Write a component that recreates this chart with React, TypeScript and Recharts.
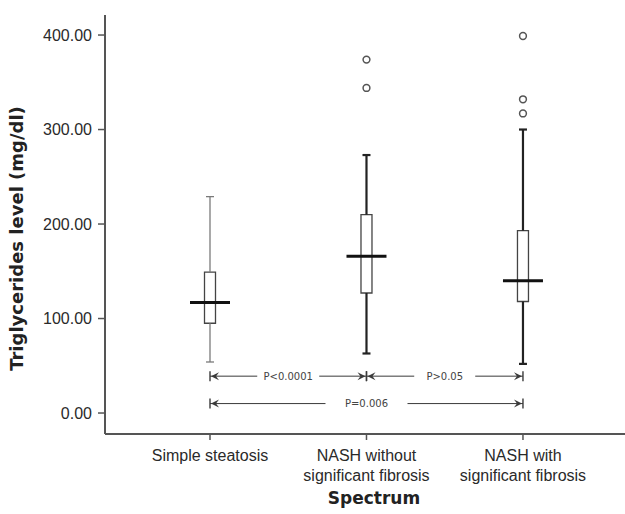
import React from 'react'
import { ComposedChart, XAxis, YAxis, Scatter, ReferenceLine, ReferenceArea, Label } from 'recharts'

// groups along the x axis
const categories = ['Simple steatosis', 'NASH without significant fibrosis', 'NASH with significant fibrosis']
const groupPositions = [1, 2, 3]

// box plot statistics (mg/dl)
const whiskerLow = [54, 63, 52]
const quartile1 = [95, 127, 118]
const medians = [117, 166, 140]
const quartile3 = [149, 210, 193]
const whiskerHigh = [229, 273, 300]

// outliers
const outlierGroups = [2, 2, 3, 3, 3]
const outlierValues = [374, 344, 399, 332, 317]

const yTicks = [0, 100, 200, 300, 400]

// pairwise comparisons
const compareFrom = [1, 2, 1]
const compareTo = [2, 3, 3]
const compareLevel = [39, 39, 10]
const compareLabels = ['P<0.0001', 'P>0.05', 'P=0.006']

// styles / sizes
const X_DOMAIN: [number, number] = [0.329, 3.652]
const Y_DOMAIN: [number, number] = [-22.2, 421.2]
const PX_PER_GROUP = 156.5
const BOX_HALF = 5.5 / PX_PER_GROUP
const MEDIAN_HALF = 20 / PX_PER_GROUP
const CAP_HALF = 4 / PX_PER_GROUP
const GROUP_STROKE = ['#7a7a7a', '#222', '#222']
const GROUP_WIDTH = [1.3, 2.2, 2.2]
const BRACKET_GAPS = [62, 61, 82]
const FRAME = '#555'
const FONT = '"Liberation Sans", Arial, sans-serif'

const outlierData = outlierGroups.map((g, i) => ({ x: g, y: outlierValues[i] }))

function CategoryTick(props: any) {
  const { x, y, payload } = props
  const label = categories[payload.value - 1] || ''
  const lines = label.replace(' significant', '\nsignificant').split('\n')
  return (
    <text x={x} y={y} textAnchor="middle" fontSize={16} fill="#2a2a2a" fontFamily={FONT}>
      {lines.map((ln, i) => (
        <tspan key={i} x={x} dy={i === 0 ? 19 : 20}>{ln}</tspan>
      ))}
    </text>
  )
}

function Bracket(props: any) {
  const { x1, y1, x2, label, gap } = props
  const y = y1
  const mid = (x1 + x2) / 2
  const c = '#3a3a3a'
  return (
    <g>
      <line x1={x1} y1={y} x2={mid - gap / 2} y2={y} stroke={c} strokeWidth={1} />
      <line x1={mid + gap / 2} y1={y} x2={x2} y2={y} stroke={c} strokeWidth={1} />
      <line x1={x1} y1={y - 5} x2={x1} y2={y + 5} stroke={c} strokeWidth={1.4} />
      <line x1={x2} y1={y - 5} x2={x2} y2={y + 5} stroke={c} strokeWidth={1.4} />
      <path d={`M${x1 + 1},${y} L${x1 + 9},${y - 4} L${x1 + 6},${y} L${x1 + 9},${y + 4} Z`} fill={c} />
      <path d={`M${x2 - 1},${y} L${x2 - 9},${y - 4} L${x2 - 6},${y} L${x2 - 9},${y + 4} Z`} fill={c} />
      <text x={mid} y={y} dy={3.6} textAnchor="middle" fontSize={10} fontFamily="DejaVu Sans" fill="#444">
        {label}
      </text>
    </g>
  )
}

export default function App() {
  return (
    <div style={{ position: 'absolute', left: 0, top: 0, width: 625, height: 514, background: '#fff' }}>
      <ComposedChart
        width={625}
        height={514}
        margin={{ top: 15, right: 0, bottom: 0, left: 0 }}
        style={{ fontFamily: FONT }}
      >
        <XAxis
          xAxisId="top"
          orientation="top"
          type="number"
          domain={X_DOMAIN}
          allowDataOverflow
          tick={false}
          tickLine={false}
          height={0}
          axisLine={{ stroke: FRAME, strokeWidth: 2 }}
        />
        <XAxis
          type="number"
          dataKey="x"
          domain={X_DOMAIN}
          allowDataOverflow
          ticks={groupPositions}
          interval={0}
          height={80}
          tickSize={6}
          tick={<CategoryTick />}
          axisLine={{ stroke: FRAME, strokeWidth: 2 }}
          tickLine={{ stroke: FRAME, strokeWidth: 1.5 }}
        >
          <Label
            content={(p: any) => {
              const vb = p.viewBox
              return (
                <text x={vb.x + vb.width / 2 + 9} y={vb.y + 70} textAnchor="middle" fontSize={17}
                  fontWeight="bold" fontFamily="DejaVu Sans" fill="#222">Spectrum</text>
              )
            }}
          />
        </XAxis>
        <YAxis
          type="number"
          dataKey="y"
          domain={Y_DOMAIN}
          allowDataOverflow
          ticks={yTicks}
          width={105}
          tickSize={7}
          tickMargin={6}
          tickFormatter={(v: number) => v.toFixed(2)}
          tick={{ fontSize: 16, fill: '#2a2a2a', fontFamily: FONT }}
          axisLine={{ stroke: FRAME, strokeWidth: 2 }}
          tickLine={{ stroke: FRAME, strokeWidth: 1.5 }}
        >
          <Label
            content={(p: any) => {
              const vb = p.viewBox
              const cy = vb.y + vb.height / 2 + 14
              return (
                <text x={23} y={cy} transform={`rotate(-90, 23, ${cy})`} textAnchor="middle" fontSize={18}
                  fontWeight="bold" fontFamily="DejaVu Sans" fill="#222">Triglycerides level (mg/dl)</text>
              )
            }}
          />
        </YAxis>

        {groupPositions.map((g, i) => (
          <React.Fragment key={`box-${g}`}>
            <ReferenceLine segment={[{ x: g, y: whiskerLow[i] }, { x: g, y: quartile1[i] }]}
              stroke={GROUP_STROKE[i]} strokeWidth={GROUP_WIDTH[i]} />
            <ReferenceLine segment={[{ x: g, y: quartile3[i] }, { x: g, y: whiskerHigh[i] }]}
              stroke={GROUP_STROKE[i]} strokeWidth={GROUP_WIDTH[i]} />
            <ReferenceLine segment={[{ x: g - CAP_HALF, y: whiskerLow[i] }, { x: g + CAP_HALF, y: whiskerLow[i] }]}
              stroke={GROUP_STROKE[i]} strokeWidth={GROUP_WIDTH[i]} />
            <ReferenceLine segment={[{ x: g - CAP_HALF, y: whiskerHigh[i] }, { x: g + CAP_HALF, y: whiskerHigh[i] }]}
              stroke={GROUP_STROKE[i]} strokeWidth={GROUP_WIDTH[i]} />
            <ReferenceArea x1={g - BOX_HALF} x2={g + BOX_HALF} y1={quartile1[i]} y2={quartile3[i]}
              fill="#fff" fillOpacity={1} stroke="#444" strokeWidth={1.3} />
            <ReferenceLine segment={[{ x: g - MEDIAN_HALF, y: medians[i] }, { x: g + MEDIAN_HALF, y: medians[i] }]}
              stroke="#111" strokeWidth={3} />
          </React.Fragment>
        ))}

        {compareLabels.map((lab, i) => (
          <ReferenceLine
            key={`cmp-${i}`}
            segment={[{ x: compareFrom[i], y: compareLevel[i] }, { x: compareTo[i], y: compareLevel[i] }]}
            shape={(p: any) => <Bracket {...p} label={lab} gap={BRACKET_GAPS[i]} />}
          />
        ))}

        <Scatter
          data={outlierData}
          isAnimationActive={false}
          shape={(p: any) => (
            <circle cx={p.cx} cy={p.cy} r={3.4} fill="#fff" stroke="#555" strokeWidth={1.5} />
          )}
        />
      </ComposedChart>
    </div>
  )
}
